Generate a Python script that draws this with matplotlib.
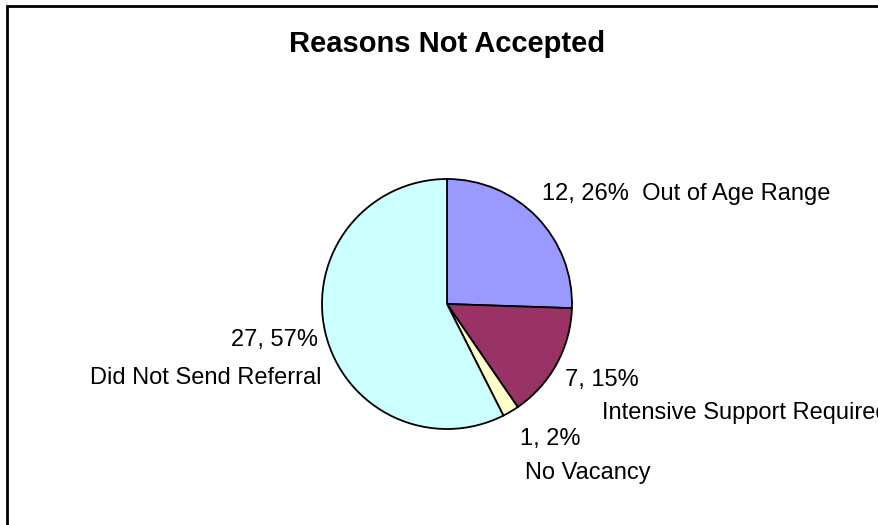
import matplotlib.pyplot as plt
from matplotlib.patches import Rectangle

plt.rcParams['font.family'] = ['Liberation Sans', 'DejaVu Sans']

# slices, clockwise from 12 o'clock
reasons = ['Out of Age Range', 'Intensive Support Required', 'No Vacancy', 'Did Not Send Referral']
counts = [12, 7, 1, 27]
colors = ['#9999FF', '#993366', '#FFFFCC', '#CCFFFF']

W, H = 879, 525
total = sum(counts)

fig = plt.figure(figsize=(W / 100, H / 100), dpi=100)
ax = fig.add_axes([0, 0, 1, 1])

ax.pie(counts, colors=colors, startangle=90, counterclock=False,
       center=(447, H - 304), radius=125,
       wedgeprops=dict(edgecolor='black', linewidth=1.3))
ax.set_xlim(0, W)
ax.set_ylim(0, H)
ax.set_aspect('equal')
ax.axis('off')

# label text: value, percent, then category
pct = [round(c / total * 100) for c in counts]
first = [f'{c}, {p}%' for c, p in zip(counts, pct)]

lab_fs = 17
ax.text(542, H - 194, f'{first[0]}  {reasons[0]}', fontsize=lab_fs, ha='left', va='center')
ax.text(565, H - 380, first[1], fontsize=lab_fs, ha='left', va='center')
ax.text(602, H - 413, reasons[1], fontsize=lab_fs, ha='left', va='center')
ax.text(520, H - 439, first[2], fontsize=lab_fs, ha='left', va='center')
ax.text(525, H - 473, reasons[2], fontsize=lab_fs, ha='left', va='center')
ax.text(318, H - 340, first[3], fontsize=lab_fs, ha='right', va='center')
ax.text(322, H - 378, reasons[3], fontsize=lab_fs, ha='right', va='center')

ax.text(447, H - 44, 'Reasons Not Accepted', fontsize=21, fontweight='bold',
        ha='center', va='center')

# chart area border (runs off the right and bottom edges)
fig.patches.append(Rectangle((7 / W, -0.05), 1.2, 1 - 6 / H + 0.05,
                             transform=fig.transFigure, fill=False,
                             edgecolor='black', linewidth=2))

fig.savefig('out.png', dpi=100)
